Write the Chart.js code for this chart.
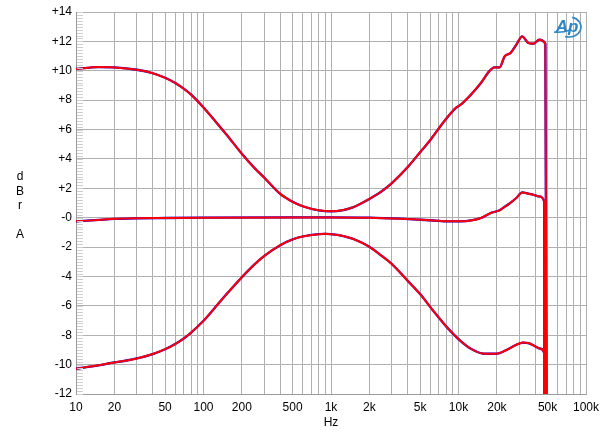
<!DOCTYPE html>
<html>
<head>
<meta charset="utf-8">
<script src="https://cdn.jsdelivr.net/npm/chart.js@4.4.0/dist/chart.umd.min.js"></script>
<style>
  html, body { margin: 0; padding: 0; background: #fff; }
</style>
</head>
<body>
<canvas id="chart" width="600" height="437"></canvas>
<script>
// x axis: labelled frequencies (Hz)
const xLabelHz = [10, 20, 50, 100, 200, 500, 1000, 2000, 5000, 10000, 20000, 50000, 100000];
const xLabelText = ["10", "20", "50", "100", "200", "500", "1k", "2k", "5k", "10k", "20k", "50k", "100k"];
// y axis ticks (dBr)
const yTickVals = [-12, -10, -8, -6, -4, -2, 0, 2, 4, 6, 8, 10, 12, 14];
const yTickText = ["-12", "-10", "-8", "-6", "-4", "-2", "-0", "+2", "+4", "+6", "+8", "+10", "+12", "+14"];

// upper curve (max boost)
const upperHz = [10, 15, 20, 30, 40, 50, 60, 70, 80, 100, 125, 150, 200, 250, 300, 400, 500, 600, 800, 1000,
  1250, 1500, 2000, 2500, 3000, 4000, 5060, 6040, 7700, 9500, 10400, 12500, 15000, 17400, 19100, 21000, 23000,
  25600, 28400, 31600, 35300, 38700, 43000, 48000, 50000];
const upperDb = [10.12, 10.25, 10.23, 10.07, 9.83, 9.52, 9.17, 8.78, 8.37, 7.5, 6.52, 5.7, 4.35, 3.4, 2.72, 1.62, 1.08, 0.78, 0.5, 0.43,
  0.52, 0.72, 1.28, 1.8, 2.35, 3.45, 4.51, 5.31, 6.55, 7.46, 7.69, 8.37, 9.17, 9.96, 10.23, 10.23, 10.98,
  11.21, 11.77, 12.34, 11.89, 11.84, 12.11, 11.84, -40];

// middle curve (flat)
const midHz = [10, 15, 20, 30, 50, 100, 500, 1000, 2000, 3500, 5060, 6400, 8200, 10400, 12500, 15000, 17900, 21000, 22300,
  25000, 28400, 31600, 35300, 40000, 43000, 47000, 47500];
const midDb = [-0.25, -0.15, -0.08, -0.04, -0.02, 0, 0.02, 0.02, 0, -0.07, -0.14, -0.19, -0.25, -0.25, -0.19, -0.02, 0.32, 0.50, 0.66,
  0.95, 1.34, 1.72, 1.63, 1.52, 1.45, 1.11, -40];

// lower curve (max cut)
const lowerHz = [10, 15, 20, 25, 30, 40, 50, 60, 70, 80, 100, 125, 150, 200, 250, 300, 400, 500, 600, 800, 900,
  1000, 1250, 1500, 2000, 2500, 3000, 4000, 5000, 6400, 8200, 10400, 12500, 15900, 19700, 24000, 28400, 32000,
  35300, 40000, 44000, 47000, 47500];
const lowerDb = [-10.28, -10.05, -9.85, -9.72, -9.58, -9.28, -8.95, -8.6, -8.22, -7.82, -7.02, -6.05, -5.25, -4.05, -3.2, -2.6, -1.87, -1.48, -1.28, -1.12, -1.1,
  -1.12, -1.25, -1.45, -1.98, -2.6, -3.15, -4.3, -5.2, -6.38, -7.5, -8.4, -8.92, -9.26, -9.26, -8.99, -8.65, -8.50,
  -8.53, -8.76, -8.92, -9.21, -40];

const FONT = "'Liberation Sans', Arial, sans-serif";

// grid lines at 1..9 x each decade
const gridHz = [];
for (let d = 10; d <= 10000; d *= 10) {
  for (let m = 1; m < 10; m++) gridHz.push(d * m);
}
gridHz.push(100000);

function pts(xs, ys) {
  return xs.map((x, i) => ({ x: x, y: ys[i] }));
}

function line(xs, ys, color, width) {
  return {
    data: pts(xs, ys),
    borderColor: color,
    borderWidth: width,
    pointRadius: 0,
    cubicInterpolationMode: "monotone",
  };
}

// small minor ticks along the left edge, y axis title, AP logo
const extras = {
  id: "extras",
  afterDraw: (chart) => {
    const ctx = chart.ctx;
    const area = chart.chartArea;
    const y = chart.scales.y;
    ctx.save();
    ctx.strokeStyle = "#cfcfcf";
    ctx.lineWidth = 1;
    for (let i = 0; i <= 130; i++) {
      const py = Math.round(y.getPixelForValue(-12 + i * 0.2)) + 0.5;
      ctx.beginPath();
      ctx.moveTo(area.left + 1, py);
      ctx.lineTo(area.left + 7, py);
      ctx.stroke();
    }
    // axis title
    ctx.fillStyle = "#000";
    ctx.font = "12px " + FONT;
    ctx.textAlign = "center";
    ctx.textBaseline = "middle";
    ctx.fillText("d", 20, 177);
    ctx.fillText("B", 20, 192);
    ctx.fillText("r", 20, 206);
    ctx.fillText("A", 20, 235);
    // logo
    ctx.fillStyle = "#2b86c8";
    ctx.strokeStyle = "#2b86c8";
    ctx.font = "italic bold 17px " + FONT;
    ctx.fillText("Ap", 567, 27);
    ctx.lineWidth = 1.6;
    ctx.beginPath();
    ctx.ellipse(569, 27, 12, 10, 0, -1.3, 1.9);
    ctx.stroke();
    ctx.beginPath();
    ctx.moveTo(554, 32);
    ctx.quadraticCurveTo(562, 33, 570, 30);
    ctx.stroke();
    ctx.restore();
  },
};

new Chart(document.getElementById("chart").getContext("2d"), {
  type: "line",
  data: {
    // first dataset is painted last, so red goes first to sit on top
    datasets: [
      line(upperHz, upperDb, "#ff0000", 2),
      line(midHz, midDb, "#ff0000", 2),
      line(lowerHz, lowerDb, "#ff0000", 2),
      line(upperHz, upperDb, "#0000ff", 2.3),
      line(midHz, midDb, "#0000ff", 2.3),
      line(lowerHz, lowerDb, "#0000ff", 2.3),
    ],
  },
  options: {
    responsive: false,
    animation: false,
    devicePixelRatio: 1,
    layout: { padding: { top: 12, right: 14, left: 0, bottom: 0 } },
    plugins: {
      legend: { display: false },
      tooltip: { enabled: false },
    },
    scales: {
      x: {
        type: "logarithmic",
        min: 10,
        max: 100000,
        afterBuildTicks: (s) => {
          s.ticks = gridHz.map((v) => ({ value: v }));
        },
        afterFit: (s) => {
          s.height = 43;
          s.paddingLeft = 0;
          s.paddingRight = 0;
        },
        ticks: {
          autoSkip: false,
          maxRotation: 0,
          padding: 6,
          color: "#000",
          font: { family: FONT, size: 12 },
          callback: (v) => {
            const i = xLabelHz.indexOf(v);
            return i >= 0 ? xLabelText[i] : "";
          },
        },
        grid: { color: "#b0b0b0", drawTicks: false },
        border: { color: "#9a9a9a" },
        title: {
          display: true,
          text: "Hz",
          color: "#000",
          font: { family: FONT, size: 12 },
          padding: { top: 2, bottom: 7 },
        },
      },
      y: {
        type: "linear",
        min: -12,
        max: 14,
        afterBuildTicks: (s) => {
          s.ticks = yTickVals.map((v) => ({ value: v }));
        },
        afterFit: (s) => {
          s.width = 76;
        },
        ticks: {
          padding: 4,
          color: "#000",
          font: { family: FONT, size: 12 },
          callback: (v) => {
            const i = yTickVals.indexOf(v);
            return i >= 0 ? yTickText[i] : "";
          },
        },
        grid: { color: "#b0b0b0", drawTicks: false },
        border: { color: "#9a9a9a" },
      },
    },
  },
  plugins: [extras],
});
</script>
</body>
</html>
